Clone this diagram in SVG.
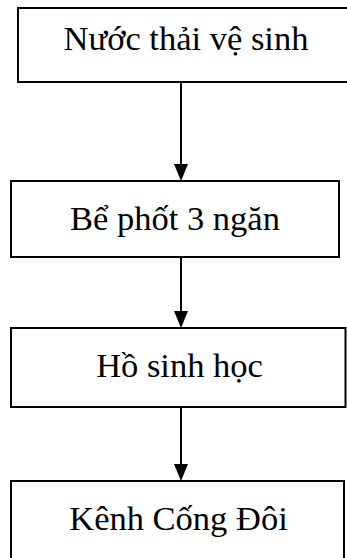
<svg xmlns="http://www.w3.org/2000/svg" width="347" height="558" viewBox="0 0 347 558">
  <defs>
    <style>
      .box { fill: #ffffff; stroke: #000000; stroke-width: 2; }
      .label { font-family: "Liberation Serif", "Times New Roman", serif; font-size: 34.5px; fill: #000000; text-anchor: middle; }
      .link { stroke: #000000; stroke-width: 2; fill: none; }
      .head { fill: #000000; }
    </style>
  </defs>
  <rect width="347" height="558" fill="#ffffff"/>

  <g id="node-nuoc-thai">
    <rect class="box" x="18" y="8" width="340" height="74"/>
    <text class="label" x="186" y="50">Nước thải vệ sinh</text>
  </g>

  <g id="node-be-phot">
    <rect class="box" x="11" y="181" width="328" height="76"/>
    <text class="label" x="175" y="230">Bể phốt 3 ngăn</text>
  </g>

  <g id="node-ho-sinh-hoc">
    <rect class="box" x="11" y="328" width="334.5" height="79"/>
    <text class="label" x="179.5" y="377">Hồ sinh học</text>
  </g>

  <g id="node-kenh">
    <rect class="box" x="11" y="481" width="333" height="90"/>
    <text class="label" x="178.5" y="530">Kênh Cống Đôi</text>
  </g>

  <g id="connectors">
    <line class="link" x1="181" y1="82" x2="181" y2="166"/>
    <polygon class="head" points="174,164 188,164 181,181"/>
    <line class="link" x1="181" y1="257" x2="181" y2="313"/>
    <polygon class="head" points="174,311 188,311 181,328"/>
    <line class="link" x1="181" y1="407" x2="181" y2="466"/>
    <polygon class="head" points="174,464 188,464 181,481"/>
  </g>
</svg>
